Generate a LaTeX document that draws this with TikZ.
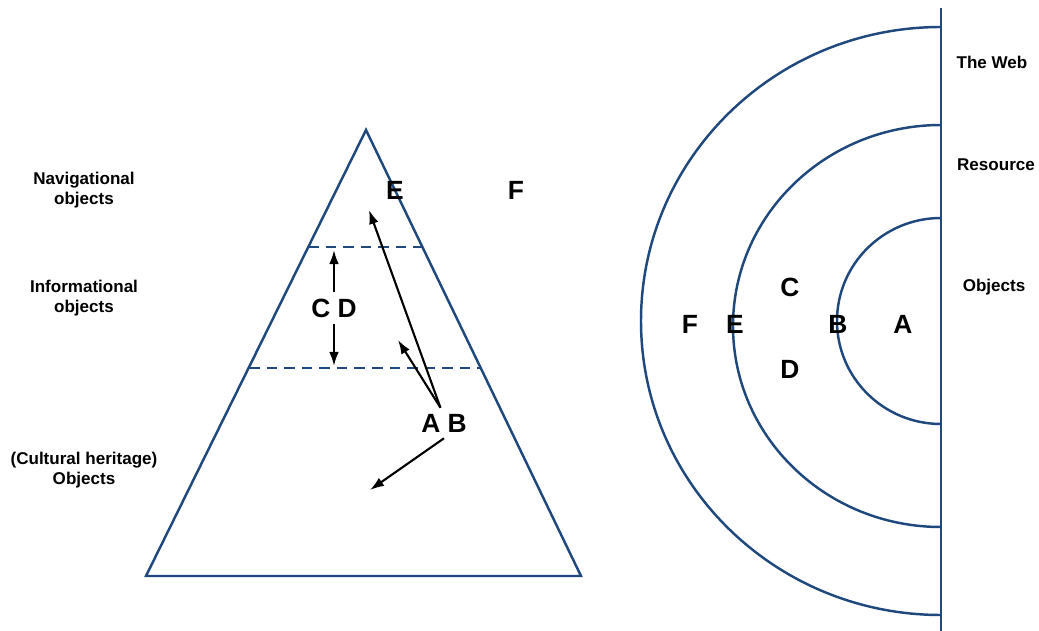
\documentclass[tikz,border=0pt]{standalone}
\usepackage{fontspec}
\setmainfont{Liberation Sans}
\usepackage{tikz}
\usetikzlibrary{arrows.meta,positioning}
\definecolor{darkblue}{RGB}{31,73,125}

\begin{document}
\begin{tikzpicture}[x=0.02cm, y=-0.02cm,
		letter/.style={font=\fontsize{15}{15}\selectfont\bfseries},
		comment/.style={align=center, font=\fontsize{9.7}{11}\selectfont\bfseries},
		edge/.style={darkblue, line width=1.4pt},
		link/.style={-{Latex[length=8pt,width=5.5pt]}, line width=1.2pt}]
			\useasboundingbox (0,0) rectangle (1039,631);
			
			% pyramid
			\draw [edge, line join=miter] (366,130) -- (146,576) -- (581,576) -- cycle;
			\draw [edge, dashed, dash pattern=on 6pt off 4pt] (308,247) -- (422,247);
			\draw [edge, dashed, dash pattern=on 6pt off 4pt] (249,368) -- (481,368);
			
			\node [comment] (nav) at (84,190) {Navigational\\objects};
			\node [comment] (info) at (84,298) {Informational\\objects};
			\node [comment] (chobj) at (84,470) {(Cultural heritage)\\Objects};
			
			\node [letter] (E) at (395,190) {E};
			\node [letter] (F) at (516,190) {F};
			\node [letter] (CD) at (334,308) {C D};
			\node [letter] (AB) at (444,423) {A B};
			
			\coordinate (cdup) at (334,250);
			\coordinate (cddown) at (334,366);
			\coordinate (navtip) at (369,210);
			\coordinate (infotip) at (398,340);
			\coordinate (objtip) at (370,490);
			
			\draw [link] (CD) -- (cdup);
			\draw [link] (CD) -- (cddown);
			\draw [link] ([xshift=-2pt]AB.north) -- (navtip);
			\draw [link] ([xshift=-2pt]AB.north) -- (infotip);
			\draw [link] (AB.south) -- (objtip);
			
			% layers
			\draw [edge] (941,8) -- (941,631);
			\draw [edge] (941,27) arc [start angle=270, end angle=90, x radius=300, y radius=294];
			\draw [edge] (941,125) arc [start angle=270, end angle=90, x radius=208, y radius=201];
			\draw [edge] (941,218) arc [start angle=270, end angle=90, x radius=104, y radius=103];
			
			\node [comment] (web) at (992,62) {The Web};
			\node [comment] (res) at (996,165) {Resource};
			\node [comment] (obj) at (994,287) {Objects};
			
			\node [letter] (rF) at (690,324) {F};
			\node [letter] (rE) at (735,324) {E};
			\node [letter] (rC) at (790,287) {C};
			\node [letter] (rB) at (838,324) {B};
			\node [letter] (rA) at (903,324) {A};
			\node [letter] (rD) at (790,369) {D};
			
		\end{tikzpicture}
\end{document}
